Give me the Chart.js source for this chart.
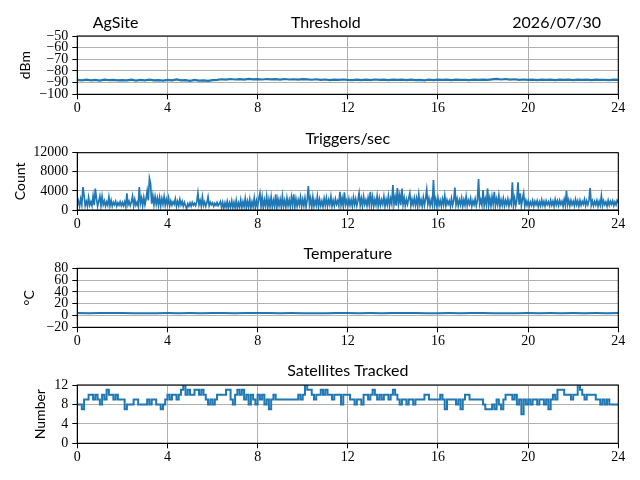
<!DOCTYPE html>
<html><head><meta charset="utf-8">
<script src="https://cdn.jsdelivr.net/npm/chart.js@4/dist/chart.umd.min.js"></script>
<style>
html,body{margin:0;padding:0;background:#fff;}
#wrap{position:relative;width:640px;height:480px;overflow:hidden;}
canvas{position:absolute;left:0;}
</style></head><body>
<div id="wrap">
<canvas id="c1" width="640" height="120" style="top:0px"></canvas>
<canvas id="c2" width="640" height="120" style="top:120px"></canvas>
<canvas id="c3" width="640" height="120" style="top:240px"></canvas>
<canvas id="c4" width="640" height="120" style="top:360px"></canvas>
</div>
<script>
// ---- data (hours of day on x) ----
const xTicks = [0, 4, 8, 12, 16, 20, 24];

const thresholdStep = 0.2; // hours between samples
const threshold = [
 -87.6,-88.1,-87.4,-88.0,-87.7,-88.2,-87.5,-87.9,-87.6,-88.1,-87.8,
 -88.0,-87.5,-88.2,-87.7,-88.0,-87.4,-88.1,-87.8,-88.3,-87.6,
 -88.0,-87.3,-88.1,-87.9,-88.4,-87.7,-88.2,-88.0,-88.5,-87.8,
 -87.6,-87.1,-87.4,-86.9,-87.3,-87.0,-87.4,-86.8,-87.2,-87.0,
 -87.3,-86.9,-87.2,-87.0,-87.4,-86.9,-87.3,-87.1,-87.4,-87.0,
 -87.2,-87.5,-87.1,-87.6,-87.3,-87.8,-87.4,-87.7,-87.3,-87.6,
 -87.8,-87.4,-87.9,-87.5,-87.8,-87.3,-87.7,-87.5,-87.9,-87.4,
 -87.7,-87.5,-87.9,-87.4,-87.8,-87.6,-88.0,-87.5,-87.8,-87.4,
 -87.7,-87.5,-87.8,-87.4,-87.7,-87.6,-87.9,-87.5,-87.7,-87.4,
 -87.6,-87.2,-86.8,-87.3,-86.9,-87.4,-87.1,-87.6,-87.3,-87.7,
 -87.5,-87.8,-87.4,-87.7,-87.5,-87.9,-87.4,-87.7,-87.5,-87.8,
 -87.4,-87.7,-87.5,-87.8,-87.4,-87.7,-87.6,-87.8,-87.5,-87.6
];
const thresholdTicks = [-100, -90, -80, -70, -60, -50];

const triggersStep = 0.05;
const triggers = [
 1000,1900,800,2300,1100,4800,3000,900,1800,800,2600,1000,1700,900,2900,1000,4500,2400,800,1800,
 2900,900,2800,1100,1900,800,1700,1000,2700,900,2000,800,1600,1100,1800,800,1500,1000,1700,900,
 1600,900,1700,700,3500,1100,1800,900,1700,2900,900,2200,1000,1600,800,4800,1400,2500,900,2600,
 1100,2300,4000,2000,6600,5500,1300,3000,1100,2800,1200,2500,1000,2600,900,2400,1200,2800,1000,2200,
 1100,2500,900,1900,1000,1700,1200,2300,800,1800,900,2200,1100,1800,800,1600,900,300,1300,800,
 1500,800,1600,1000,1400,900,1700,3500,1100,2000,800,2700,1000,1700,800,1500,2700,900,1600,1100,
 1500,800,1400,1000,1600,900,1300,1800,500,1600,400,1500,600,1800,400,1500,600,1900,500,1600,
 500,2000,400,1500,600,2100,500,1700,700,2400,500,1800,600,2200,400,1700,700,2500,500,1900,
 600,2400,3500,700,2700,500,2100,800,2800,500,2200,700,2700,600,2000,800,3300,500,2300,900,
 2200,600,2900,800,2000,600,2500,900,2100,700,2700,1000,3300,600,2300,800,2100,1100,2700,700,
 2200,900,2500,700,2100,5000,1100,2400,600,2700,800,2000,1000,2800,700,2200,900,1900,700,2400,
 1000,2500,800,2100,1100,2800,800,2000,900,2300,1200,1900,900,3800,1000,2400,800,3700,1100,2000,
 800,2300,1000,2100,800,2600,1100,2300,900,2000,3500,1000,2400,800,2800,1200,2100,900,2500,1100,
 3800,1000,2700,800,2200,1100,2900,800,2400,1000,2100,1200,2800,800,2200,1100,2900,900,2400,1300,
 5200,1200,2700,900,4600,1300,3000,1000,4500,1100,2500,900,2200,1200,2400,3500,900,2200,1100,2500,
 1000,2400,800,3200,1100,2100,800,2600,1000,2300,4200,1200,2400,900,2100,1100,6300,1000,2300,800,
 2500,1000,2000,800,2300,1100,3000,900,2100,1200,1900,800,2400,1000,2000,4700,1100,2300,900,2100,
 1100,2500,800,2100,1000,2800,900,2000,1200,2400,800,1900,1100,2300,900,2000,6500,1200,2100,1000,
 4200,900,2300,1100,4500,1000,2500,800,2800,1200,3800,900,2300,1100,3000,800,2100,1000,2400,900,
 2000,1100,2300,800,1900,1200,5800,1000,2500,900,2100,5800,1100,3500,900,2300,3500,800,2000,1000,
 1900,800,1700,1000,2000,800,1800,1100,1900,700,1700,900,2100,1000,1800,800,1900,1100,1700,900,
 2000,1000,1800,800,2200,1100,1900,900,2000,1200,1800,800,2200,1000,4000,1100,2100,900,2000,1100,
 1800,900,2200,1100,1900,800,2000,1000,1800,1200,2200,900,1900,1100,2000,4600,1000,1900,900,1800,
 1100,2000,800,1800,1000,3000,900,1900,1100,1700,800,2000,1000,1800,1200,1900,900,1700,1100,2000,
 1500
];
const triggersTicks = [0, 4000, 8000, 12000];

const temperatureStep = 0.5;
const temperature = [
 4.1,4.0,4.1,4.2,4.1,4.0,3.9,4.0,4.1,4.0,
 4.1,4.0,4.1,4.1,4.0,4.1,4.2,4.1,4.0,4.1,
 4.0,3.9,4.0,4.1,4.1,4.0,4.1,4.0,4.1,4.2,
 4.1,4.0,4.0,4.1,4.0,4.1,4.1,4.0,3.9,4.0,
 4.1,4.0,4.1,4.0,4.1,4.0,4.1,4.0,4.1
];
const temperatureTicks = [-20, 0, 20, 40, 60, 80];

const satellitesStep = 0.1;
const satellites = [
 8,8,7,9,9,10,10,9,10,9,
 8,10,9,11,10,10,9,10,9,9,
 9,7,8,8,8,9,9,8,8,8,
 8,9,8,9,9,8,8,7,8,9,
 10,9,10,10,9,10,11,12,10,11,
 10,10,11,11,10,11,10,9,8,9,
 8,9,10,10,10,10,11,11,9,8,
 10,11,10,11,9,10,8,10,9,8,
 10,9,10,8,9,7,9,10,9,9,
 9,9,9,9,9,9,9,9,10,9,
 10,12,11,11,10,9,10,10,11,10,
 11,10,10,9,10,10,10,8,10,10,
 10,9,9,8,9,9,8,10,10,9,
 10,11,10,9,10,9,10,10,9,10,
 11,10,9,8,9,9,8,9,9,8,
 9,9,9,9,10,10,9,9,9,9,
 9,10,9,7,9,9,9,9,8,9,
 7,9,10,10,9,9,9,9,9,9,
 8,7,7,7,8,7,9,8,7,9,
 10,10,10,9,10,8,9,6,9,8,
 9,8,9,9,8,9,9,8,9,7,
 9,10,9,11,11,11,10,10,10,9,
 10,10,12,11,10,9,10,10,10,10,
 9,9,8,9,8,9,8,8,8,8,
 8
];
const satellitesTicks = [0, 4, 8, 12];

// ---- drawing ----
const SERIF = "'Liberation Serif', 'DejaVu Serif', serif";
const SANS = "Lato, 'Open Sans', 'DejaVu Sans', sans-serif";
const LINE = '#1f77b4';
const AXIS_LEFT = 77.3, AXIS_RIGHT = 618.3;

const framePlugin = {
  id: 'frame',
  afterDatasetsDraw(chart) {
    const a = chart.chartArea, ctx = chart.ctx;
    ctx.save();
    ctx.strokeStyle = '#000';
    ctx.lineWidth = 1.1;
    ctx.strokeRect(a.left, a.top, a.right - a.left, a.bottom - a.top);
    ctx.restore();
  }
};
const titlePlugin = {
  id: 'panelTitles',
  afterDraw(chart, args, opts) {
    const ctx = chart.ctx;
    ctx.save();
    ctx.fillStyle = '#000';
    ctx.font = '16px ' + SANS;
    ctx.textBaseline = 'alphabetic';
    (opts.items || []).forEach(it => {
      ctx.textAlign = it.align;
      ctx.fillText(it.text, it.x, opts.baseline);
    });
    ctx.restore();
  }
};

function toPoints(step, values) {
  return values.map((v, i) => ({ x: i * step, y: v }));
}
const minus = v => String(v).replace('-', '\u2212');

function panel(id, step, values, yTicks, yLabel, yLabelPad, padTop, padBottom, titleItems, titleBase, stepped, lw) {
  new Chart(document.getElementById(id), {
    type: 'line',
    data: { datasets: [{
      data: toPoints(step, values),
      borderColor: LINE, borderWidth: lw, pointRadius: 0, tension: 0,
      stepped: stepped ? 'before' : false, fill: false
    }]},
    options: {
      responsive: false, animation: false, events: [],
      layout: { padding: { left: 0, right: 640 - AXIS_RIGHT, top: padTop, bottom: padBottom } },
      plugins: {
        legend: { display: false }, tooltip: { enabled: false }, title: { display: false },
        panelTitles: { items: titleItems, baseline: titleBase }
      },
      scales: {
        x: {
          type: 'linear', min: 0, max: 24,
          afterFit(s) { s.height = 20; },
          afterBuildTicks(s) { s.ticks = xTicks.map(v => ({ value: v })); },
          ticks: { color: '#000', font: { family: SERIF, size: 14 }, padding: 1, maxRotation: 0, autoSkip: false, callback: v => String(v) },
          grid: { color: '#b0b0b0', lineWidth: 1, tickColor: '#000', tickLength: 5, tickWidth: 1 },
          border: { color: '#000', width: 1 }
        },
        y: {
          type: 'linear', min: yTicks[0], max: yTicks[yTicks.length - 1],
          afterFit(s) { s.width = AXIS_LEFT; },
          afterBuildTicks(s) { s.ticks = yTicks.map(v => ({ value: v })); },
          ticks: { color: '#000', font: { family: SERIF, size: 14, lineHeight: 1 }, padding: 4, autoSkip: false, callback: v => minus(v) },
          title: { display: true, text: yLabel, color: '#000', font: { family: SANS, size: 14 }, padding: { top: yLabelPad, bottom: 0 } },
          grid: { color: '#b0b0b0', lineWidth: 1, tickColor: '#000', tickLength: 5, tickWidth: 1 },
          border: { color: '#000', width: 1 }
        }
      }
    },
    plugins: [framePlugin, titlePlugin]
  });
}

const CENTER = (AXIS_LEFT + AXIS_RIGHT) / 2;
panel('c1', thresholdStep, threshold, thresholdTicks, 'dBm', 17, 36, 5.7,
  [{ text: 'AgSite', x: 92.7, align: 'left' },
   { text: 'Threshold', x: 325.8, align: 'center' },
   { text: '2026/07/30', x: 601, align: 'right' }], 27.7, false, 2.2);
panel('c2', triggersStep, triggers, triggersTicks, 'Count', 12.5, 32.7, 10,
  [{ text: 'Triggers/sec', x: CENTER, align: 'center' }], 24, false, 1.7);
panel('c3', temperatureStep, temperature, temperatureTicks, '\u00B0C', 21.5, 28.3, 12.7,
  [{ text: 'Temperature', x: CENTER, align: 'center' }], 19.3, false, 2);
panel('c4', satellitesStep, satellites, satellitesTicks, 'Number', 32, 25, 16.7,
  [{ text: 'Satellites Tracked', x: CENTER, align: 'center' }], 16, true, 2);
</script>
</body></html>
